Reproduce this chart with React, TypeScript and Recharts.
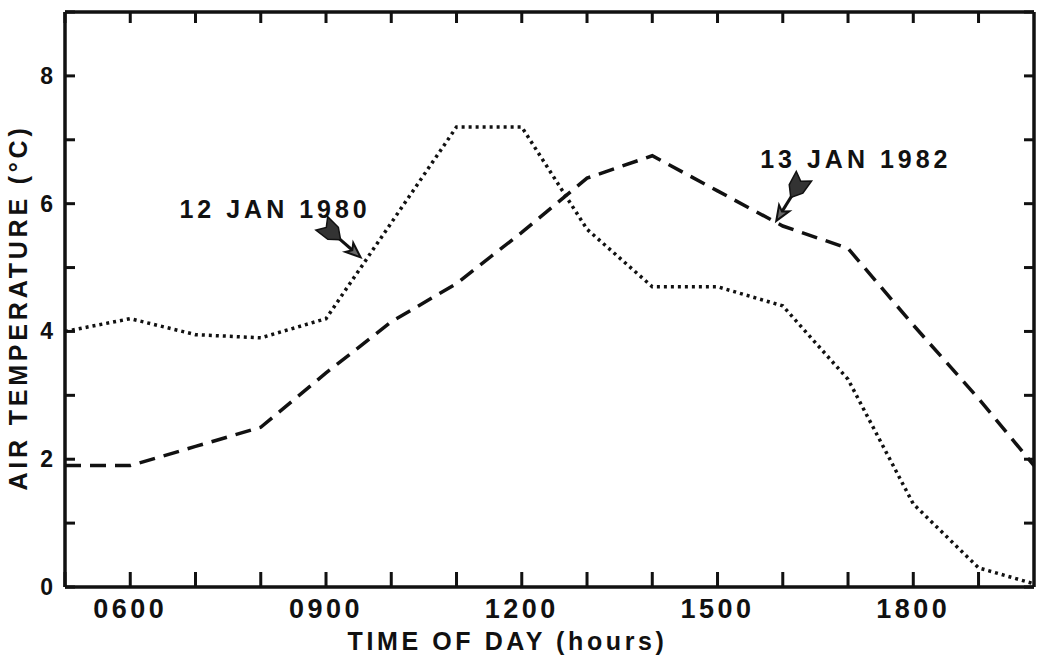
import React from "react"
import { LineChart, Line, XAxis, YAxis, ReferenceLine, ReferenceDot } from "recharts"

// hour of day (5 = 0500); last sample sits on the right frame
const hours = [5, 6, 7, 8, 9, 10, 11, 12, 13, 14, 15, 16, 17, 18, 19, 19.85]
const jan1980 = [4.0, 4.2, 3.95, 3.9, 4.2, 5.7, 7.2, 7.2, 5.6, 4.7, 4.7, 4.4, 3.25, 1.3, 0.3, 0.05]
const jan1982 = [1.9, 1.9, 2.2, 2.5, 3.35, 4.15, 4.75, 5.55, 6.4, 6.75, 6.2, 5.65, 5.3, 4.1, 2.95, 1.9]

const hourTicks = [5, 6, 7, 8, 9, 10, 11, 12, 13, 14, 15, 16, 17, 18, 19]
const labelledHours = [6, 9, 12, 15, 18]
const tempTicks = [0, 1, 2, 3, 4, 5, 6, 7, 8, 9]
const labelledTemps = [0, 2, 4, 6, 8]

const xDomain = [5, 19.85]
const yDomain = [0, 9]

const data = hours.map((h, i) => ({ hour: h, y1980: jan1980[i], y1982: jan1982[i] }))

const FONT = '"Liberation Sans", Arial, Helvetica, sans-serif'
const INK = "#111"
const tickStyle = { stroke: INK, strokeWidth: 3 }
const frameStyle = { stroke: INK, strokeWidth: 3.5 }

const hh = (v: number) => String(v * 100).padStart(4, "0")

// bottom ticks: inward mark plus label on the hours that carry one
const BottomTick = (props: any) => {
  const { x, y, payload } = props
  const v = payload.value
  return (
    <g>
      <rect x={x - 1.5} y={y - 15} width={3} height={15} fill={INK} />
      {labelledHours.includes(v) && (
        <text x={x} y={y + 31} textAnchor="middle" fontFamily={FONT} fontWeight="bold" fontSize={27} letterSpacing={3.5} fill={INK}>
          {hh(v)}
        </text>
      )}
    </g>
  )
}

const TopTick = (props: any) => {
  const { x, y } = props
  return <rect x={x - 1.5} y={y} width={3} height={11} fill={INK} />
}

// y ticks point inward (negative tickSize), label offset makes up for it
const LeftTick = (props: any) => {
  const { x, y, payload } = props
  const v = payload.value
  if (!labelledTemps.includes(v)) return null
  return (
    <text x={x - 22} y={y + 8} textAnchor="end" fontFamily={FONT} fontWeight="bold" fontSize={23} fill={INK}>
      {v}
    </text>
  )
}

const NoLabel = () => null

// fletched arrow drawn along a reference segment (tail -> tip)
const Arrow = (props: any) => {
  const { x1, y1, x2, y2 } = props
  if (x1 == null || x2 == null) return null
  const dx = x2 - x1
  const dy = y2 - y1
  const len = Math.hypot(dx, dy) || 1
  const ux = dx / len
  const uy = dy / len
  const nx = -uy
  const ny = ux
  const p = (a: number, b: number) => `${x1 + ux * a + nx * b},${y1 + uy * a + ny * b}`
  const q = (a: number, b: number) => `${x2 + ux * a + nx * b},${y2 + uy * a + ny * b}`
  return (
    <g>
      <line x1={x1 + ux * 6} y1={y1 + uy * 6} x2={x2 - ux * 10} y2={y2 - uy * 10} stroke={INK} strokeWidth={3} />
      <polygon points={[p(22, 0), p(12, 8), p(-3, 9), p(3, 0), p(-3, -9), p(12, -8)].join(" ")} fill="#333" stroke={INK} strokeWidth={1.5} />
      <polygon points={[q(0, 0), q(-15, 6), q(-11, 0), q(-15, -6)].join(" ")} fill="#666" stroke={INK} strokeWidth={2} />
    </g>
  )
}

const Note = (text: string) => (props: any) => (
  <text x={props.cx} y={props.cy} textAnchor="middle" fontFamily={FONT} fontWeight="bold" fontSize={25} letterSpacing={4} fill={INK}>
    {text}
  </text>
)

const YTitle = (props: any) => {
  const vb = props.viewBox || {}
  const cx = 27
  const cy = vb.y + vb.height / 2 + 8
  return (
    <text x={cx} y={cy} transform={`rotate(-90 ${cx} ${cy})`} textAnchor="middle" fontFamily={FONT} fontWeight="bold" fontSize={25} letterSpacing={3.8} fill={INK}>
      AIR TEMPERATURE (°C)
    </text>
  )
}

const XTitle = (props: any) => {
  const vb = props.viewBox || {}
  return (
    <text x={vb.x + vb.width / 2 - 42} y={650} textAnchor="middle" fontFamily={FONT} fontWeight="bold" fontSize={25} letterSpacing={3.6} fill={INK}>
      TIME OF DAY (hours)
    </text>
  )
}

export default function App() {
  return (
    <div style={{ position: "absolute", left: 0, top: 0, background: "#fff" }}>
      <LineChart width={1037} height={656} data={data} margin={{ top: 0, right: 0, bottom: 0, left: 0 }}>
        <XAxis
          dataKey="hour"
          type="number"
          domain={xDomain}
          allowDataOverflow
          ticks={hourTicks}
          interval={0}
          height={69}
          tickSize={0}
          tickMargin={0}
          tickLine={false}
          axisLine={frameStyle}
          tick={<BottomTick />}
          label={<XTitle />}
        />
        <XAxis
          xAxisId="top"
          orientation="top"
          dataKey="hour"
          type="number"
          domain={xDomain}
          allowDataOverflow
          ticks={hourTicks}
          interval={0}
          height={12}
          tickSize={0}
          tickMargin={0}
          tickLine={false}
          axisLine={frameStyle}
          tick={<TopTick />}
        />
        <YAxis
          type="number"
          domain={yDomain}
          allowDataOverflow
          ticks={tempTicks}
          interval={0}
          width={65}
          tickSize={-10}
          tickMargin={0}
          tickLine={tickStyle}
          axisLine={frameStyle}
          tick={<LeftTick />}
          label={<YTitle />}
        />
        <YAxis
          yAxisId="right"
          orientation="right"
          type="number"
          domain={yDomain}
          allowDataOverflow
          ticks={tempTicks}
          interval={0}
          width={3}
          tickSize={-10}
          tickMargin={0}
          tickLine={tickStyle}
          axisLine={frameStyle}
          tick={<NoLabel />}
        />
        <Line
          type="linear"
          dataKey="y1980"
          stroke={INK}
          strokeWidth={3.5}
          strokeDasharray="3 4"
          dot={false}
          isAnimationActive={false}
        />
        <Line
          type="linear"
          dataKey="y1982"
          stroke={INK}
          strokeWidth={3.5}
          strokeDasharray="16 9"
          dot={false}
          isAnimationActive={false}
        />
        <ReferenceLine segment={[{ x: 8.97, y: 5.66 }, { x: 9.53, y: 5.16 }]} shape={<Arrow />} />
        <ReferenceLine segment={[{ x: 16.3, y: 6.39 }, { x: 15.9, y: 5.73 }]} shape={<Arrow />} />
        <ReferenceDot x={8.22} y={5.77} r={0} shape={Note("12 JAN 1980")} />
        <ReferenceDot x={17.12} y={6.56} r={0} shape={Note("13 JAN 1982")} />
      </LineChart>
    </div>
  )
}
